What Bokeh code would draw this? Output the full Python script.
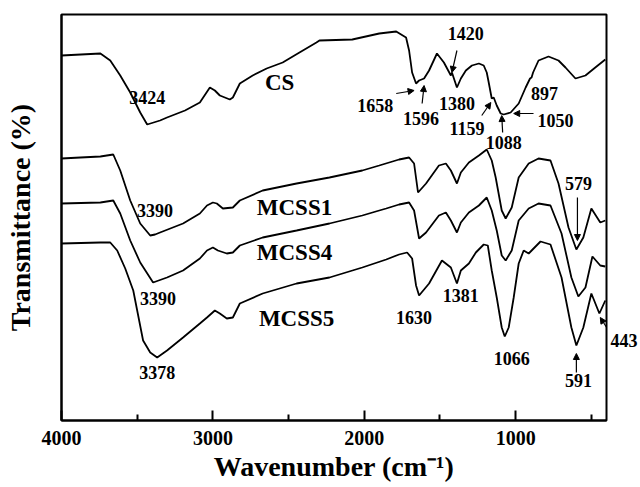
from bokeh.plotting import figure
from bokeh.models import Range1d, FixedTicker, Label, Arrow, NormalHead, LinearAxis
from bokeh.embed import file_html
from bokeh.resources import INLINE

# ---- data (wavenumber in cm-1, transmittance in arbitrary units) ----
cs_wn = [4000, 3743, 3678, 3612, 3546, 3480, 3434, 3349, 3303, 3184, 3086, 3020, 2987, 2954, 2888, 2868,
         2822, 2737, 2645, 2539, 2428, 2316, 2296, 2079, 1901, 1789, 1724, 1704, 1684, 1658, 1638, 1605,
         1572, 1520, 1474, 1428, 1421, 1388, 1362, 1329, 1289, 1243, 1211, 1191, 1178, 1158, 1145, 1125,
         1099, 1079, 1033, 980, 934, 905, 895, 885, 849, 783, 717, 671, 605, 539, 474, 408]
cs_t = [365, 367, 360, 345, 328, 308, 296, 300, 303, 310, 318, 333, 330, 325, 321, 323,
        337, 345, 352, 358, 368, 378, 380, 381, 387, 389, 383, 370, 348, 337, 340, 342,
        350, 367, 358, 345, 348, 333, 342, 350, 355, 357, 355, 348, 338, 322, 323, 315,
        307, 306, 308, 317, 333, 342, 343, 348, 360, 364, 360, 353, 342, 345, 353, 361]

mcss1_wn = [4000, 3875, 3743, 3658, 3612, 3546, 3480, 3414, 3382, 3349, 3197, 3086, 3039, 3000, 2974, 2934,
            2868, 2822, 2671, 2447, 2230, 2013, 1901, 1770, 1704, 1671, 1645, 1592, 1507, 1461, 1428, 1388,
            1362, 1309, 1243, 1191, 1158, 1132, 1092, 1066, 1026, 980, 914, 849, 770, 717, 651, 599,
            553, 500, 441, 408]
mcss1_t = [262, 263, 264, 266, 250, 220, 197, 185, 186, 188, 197, 207, 215, 218, 217, 212,
           213, 220, 230, 237, 243, 250, 255, 261, 263, 257, 228, 237, 255, 257, 250, 237,
           248, 258, 265, 271, 260, 243, 210, 202, 213, 243, 257, 262, 260, 237, 193, 171,
           183, 212, 198, 200]

mcss4_wn = [4000, 3743, 3658, 3612, 3546, 3480, 3395, 3303, 3197, 3086, 3039, 3000, 2967, 2908, 2868, 2822,
            2671, 2447, 2230, 2013, 1901, 1855, 1770, 1704, 1671, 1638, 1592, 1507, 1461, 1428, 1388, 1362,
            1309, 1243, 1191, 1158, 1125, 1092, 1066, 1026, 980, 914, 849, 770, 697, 632, 586, 539,
            493, 441, 408]
mcss4_t = [217, 218, 220, 207, 180, 158, 138, 143, 150, 162, 170, 173, 170, 167, 168, 175,
           183, 190, 197, 205, 210, 212, 216, 218, 210, 182, 188, 205, 208, 200, 188, 198,
           208, 215, 223, 210, 190, 165, 160, 170, 200, 212, 217, 215, 187, 143, 124, 133,
           164, 155, 154]

mcss5_wn = [4000, 3743, 3678, 3632, 3579, 3526, 3461, 3414, 3368, 3303, 3197, 3086, 3039, 2987, 2954, 2908,
            2868, 2822, 2671, 2447, 2230, 2013, 1855, 1770, 1717, 1684, 1658, 1638, 1572, 1487, 1428, 1388,
            1362, 1309, 1263, 1211, 1184, 1158, 1125, 1092, 1072, 1046, 1013, 980, 947, 914, 836, 770,
            697, 632, 599, 553, 500, 447, 408]
mcss5_t = [177, 178, 178, 170, 152, 130, 80, 68, 63, 70, 83, 97, 103, 110, 107, 102,
           103, 117, 127, 137, 143, 153, 161, 166, 168, 162, 135, 125, 137, 160, 153, 137,
           150, 157, 168, 176, 175, 150, 123, 93, 84, 93, 123, 157, 170, 167, 179, 176,
           143, 93, 75, 93, 127, 107, 120]

x_ticks = [4000, 3000, 2000, 1000]
x_minor = [3500, 2500, 1500, 500]

# peak labels: (text, x, y, size)
peak_labels = [
    ("3424", 3434, 323, "18px"), ("CS", 2559, 338, "23px"),
    ("1658", 1928, 315, "18px"), ("1596", 1625, 302, "18px"), ("1380", 1388, 317, "18px"),
    ("1420", 1329, 387, "18px"), ("1159", 1322, 292, "18px"), ("1088", 1079, 278, "18px"),
    ("897", 809, 327, "18px"), ("1050", 737, 300, "18px"),
    ("3390", 3382, 210, "18px"), ("MCSS1", 2461, 213, "23px"), ("579", 585, 237, "18px"),
    ("3390", 3362, 122, "18px"), ("MCSS4", 2461, 168, "23px"),
    ("1381", 1362, 125, "18px"), ("1630", 1671, 103, "18px"), ("MCSS5", 2447, 102, "23px"),
    ("3378", 3368, 48, "18px"), ("1066", 1026, 62, "18px"), ("591", 585, 40, "18px"),
]
# label of the 443 band, drawn just outside the right edge of the frame
edge_label_y = 80
edge_label_text = "443"

# arrows: (x_start, y_start, x_end, y_end)
arrows = [
    (1789, 327, 1671, 330), (1618, 317, 1605, 335), (1388, 370, 1421, 348),
    (1224, 305, 1164, 318), (1086, 288, 1092, 305), (882, 307, 1013, 307),
    (592, 223, 592, 180), (599, 48, 599, 67), (395, 92, 441, 103),
]

FONT = "Liberation Serif"

p = figure(width=640, height=487, x_range=Range1d(4000, 400), y_range=Range1d(0, 406),
           output_backend="svg", toolbar_location=None,
           min_border_left=61, min_border_right=32, min_border_top=14, min_border_bottom=67)
p.xgrid.visible = False
p.ygrid.visible = False
p.outline_line_color = "black"
p.outline_line_width = 2
p.outline_line_alpha = 1.0

ax = p.xaxis[0]
ax.ticker = FixedTicker(ticks=x_ticks, minor_ticks=x_minor)
ax.major_tick_in = 10
ax.major_tick_out = 0
ax.minor_tick_in = 6
ax.minor_tick_out = 0
ax.major_tick_line_width = 2
ax.minor_tick_line_width = 2
ax.axis_line_width = 2
ax.major_label_text_font = FONT
ax.major_label_text_font_style = "bold"
ax.major_label_text_font_size = "20px"
ax.major_label_text_color = "black"
ax.major_label_standoff = 10
ax.axis_label = "Wavenumber (cm\u207b\u00b9)"
ax.axis_label_text_font = FONT
ax.axis_label_text_font_style = "bold"
ax.axis_label_text_font_size = "28px"
ax.axis_label_text_color = "black"
ax.axis_label_standoff = 3

ay = p.yaxis[0]
ay.ticker = FixedTicker(ticks=[])
ay.major_tick_line_color = None
ay.minor_tick_line_color = None
ay.major_label_standoff = 0
ay.axis_line_width = 2
ay.axis_label = "Transmittance (%)"
ay.axis_label_text_font = FONT
ay.axis_label_text_font_style = "bold"
ay.axis_label_text_font_size = "28px"
ay.axis_label_text_color = "black"
ay.axis_label_standoff = 26

right = LinearAxis(ticker=FixedTicker(ticks=[edge_label_y]),
                   major_label_overrides={edge_label_y: edge_label_text},
                   axis_line_color=None, major_tick_line_color=None, minor_tick_line_color=None,
                   major_tick_in=0, major_tick_out=0, minor_tick_in=0, minor_tick_out=0,
                   major_label_standoff=4, major_label_text_font=FONT,
                   major_label_text_font_style="bold", major_label_text_font_size="18px",
                   major_label_text_color="black")
p.add_layout(right, "right")

for xs, ys in [(cs_wn, cs_t), (mcss1_wn, mcss1_t), (mcss4_wn, mcss4_t), (mcss5_wn, mcss5_t)]:
    p.line(xs, ys, line_color="black", line_width=1.8)

for txt, x, y, size in peak_labels:
    p.add_layout(Label(x=x, y=y, text=txt, text_font=FONT, text_font_style="bold",
                       text_font_size=size, text_align="center", text_baseline="middle",
                       text_color="black"))

for x0, y0, x1, y1 in arrows:
    p.add_layout(Arrow(end=NormalHead(size=6, fill_color="black", line_color="black", line_width=1),
                       x_start=x0, y_start=y0, x_end=x1, y_end=y1,
                       line_color="black", line_width=1.2))

open("out.html", "w").write(file_html(p, INLINE))
